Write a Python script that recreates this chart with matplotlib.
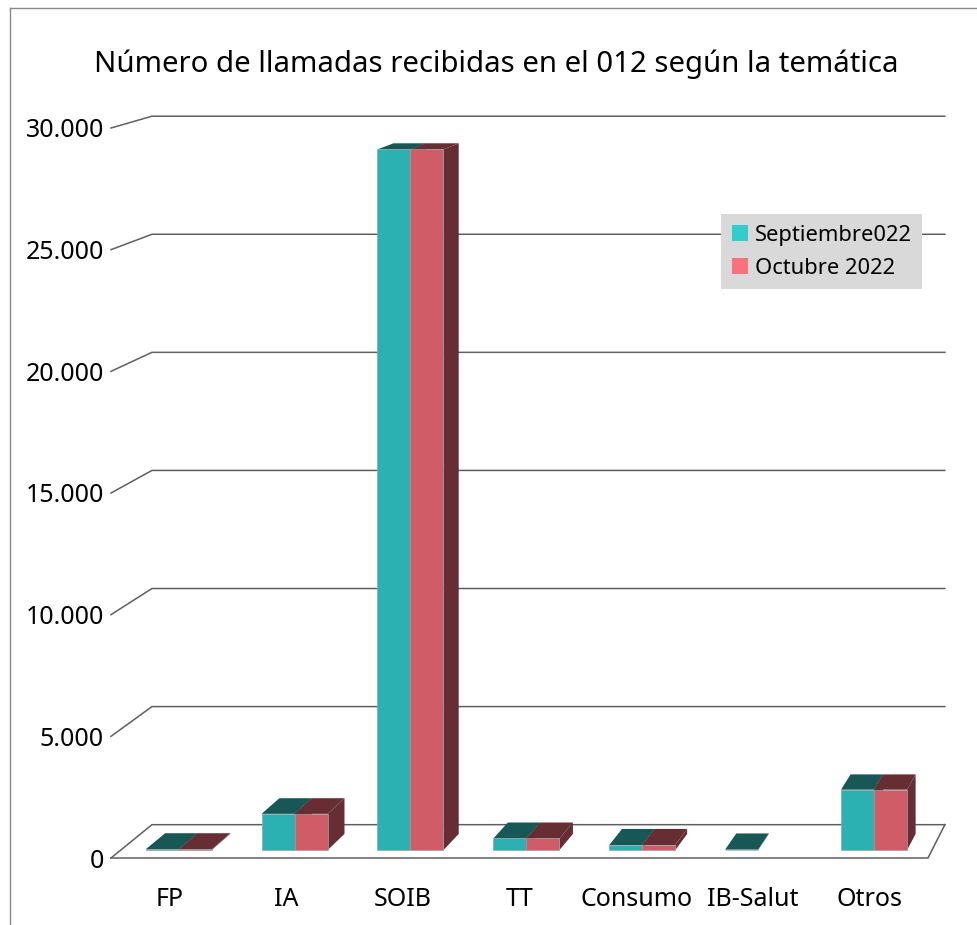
import matplotlib
matplotlib.use("Agg")
import matplotlib.pyplot as plt
from matplotlib.patches import Polygon, Patch
from matplotlib.lines import Line2D

categories = ["FP", "IA", "SOIB", "TT", "Consumo", "IB-Salut", "Otros"]
septiembre = [30, 1500, 29000, 480, 210, 20, 2500]
octubre = [30, 1500, 29000, 480, 210, 0, 2500]
series_names = ["Septiembre022", "Octubre 2022"]
y_ticks = [0, 5000, 10000, 15000, 20000, 25000, 30000]
y_labels = ["0", "5.000", "10.000", "15.000", "20.000", "25.000", "30.000"]
title = "Número de llamadas recibidas en el 012 según la temática"

W, H = 977, 925
plt.rcParams["font.family"] = ["Noto Sans", "DejaVu Sans"]
fig = plt.figure(figsize=(W / 100, H / 100), dpi=100, facecolor="white")

# front plane of the 3D box, in pixels
L, R, T, B = 111, 928, 128, 858
ax = fig.add_axes([L / W, 1 - B / H, (R - L) / W, (B - T) / H])
ax.set_xlim(-0.5, 6.5)
ax.set_ylim(0, 30000)
ax.patch.set_visible(False)
for s in ax.spines.values():
    s.set_visible(False)

# vanishing point in data units (perspective of the 3D chart)
VX = -0.5 + (1500 - L) / (R - L) * 7
VY = (B + 272) / (B - T) * 30000


def proj(x, y, d):
    return (x + d * (VX - x), y + d * (VY - y))


WALL = 0.0295
BAR_F = 0.007
BAR_B = 0.0213
GRID = "#5f5f5f"

for v in y_ticks:
    p0 = proj(-0.5, v, 0)
    p1 = proj(-0.5, v, WALL)
    p2 = proj(6.5, v, WALL)
    ax.plot([p0[0], p1[0], p2[0]], [p0[1], p1[1], p2[1]], color=GRID, lw=1.1,
            clip_on=False, zorder=1, solid_joinstyle="miter")

# floor front and right edge
pts = [proj(-0.5, 0, 0), proj(6.5, 0, 0), proj(6.5, 0, WALL)]
ax.plot([p[0] for p in pts], [p[1] for p in pts], color=GRID, lw=1.1, clip_on=False, zorder=1)

BW = 0.285
FRONT = ["#2cb1b3", "#d05c68"]
TOP = ["#175856", "#662e33"]
SIDE = ["#175856", "#662e33"]


def bar(x0, x1, v, idx, z):
    a = proj(x0, 0, BAR_F)
    b = proj(x1, 0, BAR_F)
    c = proj(x1, v, BAR_F)
    d = proj(x0, v, BAR_F)
    a2 = proj(x1, 0, BAR_B)
    b2 = proj(x1, v, BAR_B)
    c2 = proj(x0, v, BAR_B)
    ax.add_patch(Polygon([b, a2, b2, c], fc=SIDE[idx], ec="none", clip_on=False, zorder=z))
    ax.add_patch(Polygon([d, c, b2, c2], fc=TOP[idx], ec="none", clip_on=False, zorder=z))
    ax.add_patch(Polygon([a, b, c, d], fc=FRONT[idx], ec="#9aa0a0", lw=0.5, clip_on=False, zorder=z + 0.1))


for i in range(len(categories)):
    bar(i - BW, i, septiembre[i], 0, 3)
    if octubre[i] > 0:
        bar(i, i + BW, octubre[i], 1, 3.5)

ax.set_xticks(range(len(categories)))
ax.set_xticklabels(categories, fontsize=18)
ax.set_yticks(y_ticks)
ax.set_yticklabels(y_labels, fontsize=18)
ax.tick_params(axis="both", length=0, colors="black")
ax.tick_params(axis="x", pad=21)
ax.tick_params(axis="y", pad=5)

handles = [Patch(fc="#33cccc", ec="none"), Patch(fc="#f8717f", ec="none")]
leg = fig.legend(handles, series_names, loc="upper left",
                 bbox_to_anchor=(721 / W, 1 - 214 / H), bbox_transform=fig.transFigure,
                 fontsize=15.8, frameon=True, fancybox=False, facecolor="#d9d9d9", edgecolor="none",
                 framealpha=1, borderaxespad=0, borderpad=0.48, handlelength=0.75, handleheight=0.75,
                 handletextpad=0.3, labelspacing=0.55)
leg.set_zorder(10)

fig.text(496 / W, 1 - 64 / H, title, ha="center", va="center", fontsize=21.1)

for xs, ys in (([10, 10], [925, 8]), ([10, 977], [8, 8])):
    fig.add_artist(Line2D([x / W for x in xs], [1 - y / H for y in ys], color="#8a8a8a", lw=1))

fig.savefig("out.png", dpi=100)
